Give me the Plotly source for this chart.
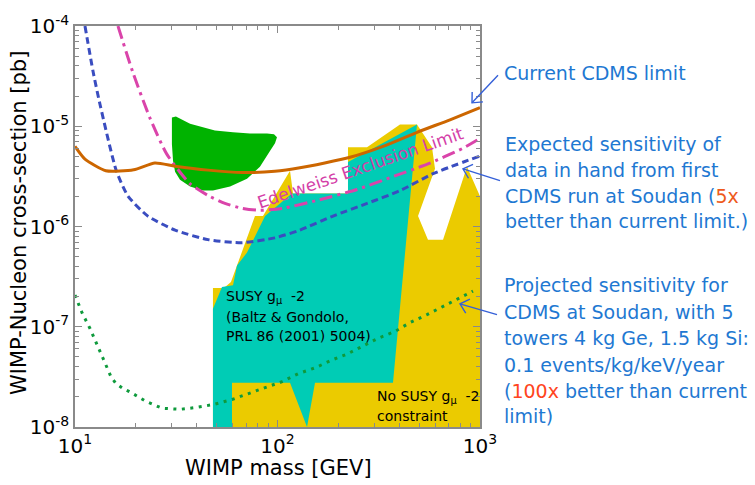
import math
import plotly.graph_objects as go

# ---------------- data ----------------
# Current CDMS limit
mass_cdms = [10, 11.2, 14.2, 19.5, 24.8, 31.2, 45.4, 67, 97, 129, 228, 332, 489, 711, 1000]
sigma_cdms = [6.3e-6, 4.7e-6, 3.6e-6, 3.68e-6, 4.3e-6, 4.0e-6, 3.65e-6, 3.45e-6, 3.55e-6, 3.85e-6,
              4.9e-6, 6.3e-6, 8.7e-6, 1.16e-5, 1.53e-5]

# Expected sensitivity, first CDMS run at Soudan
mass_exp = [11.2, 12.3, 13.3, 16.0, 18.3, 22.9, 31.2, 45.4, 66.8, 97, 129, 188, 277, 403, 586, 1000]
sigma_exp = [1e-4, 3.45e-5, 1.64e-5, 3.6e-6, 2.0e-6, 1.27e-6, 9.2e-7, 7.4e-7, 6.9e-7, 7.7e-7,
             9.2e-7, 1.27e-6, 1.7e-6, 2.28e-6, 3.36e-6, 5.05e-6]

# Edelweiss exclusion limit
mass_edw = [16.3, 19.3, 23.4, 28.4, 36.9, 45.4, 55.0, 66.8, 82.0, 106.5, 156.7, 247, 359.5, 553, 824, 1000]
sigma_edw = [1e-4, 3.45e-5, 1.22e-5, 5.27e-6, 2.68e-6, 2.04e-6, 1.70e-6, 1.52e-6, 1.45e-6, 1.52e-6,
             1.82e-6, 2.34e-6, 3.07e-6, 4.21e-6, 6.04e-6, 7.58e-6]

# Projected sensitivity, 5 towers at Soudan
mass_proj = [10, 10.83, 11.86, 12.84, 13.91, 15.06, 15.94, 17.26, 18.90, 22.42, 26.89, 33.0, 40.05,
             48.6, 59.6, 71.5, 86.8, 105.3, 126.3, 153.2, 185.8, 220.4, 264.4, 313.6, 380.3, 451.1,
             547.2, 649.2, 778.7, 923.6]
sigma_proj = [2.07e-7, 1.38e-7, 9.61e-8, 6.70e-8, 4.66e-8, 3.17e-8, 2.71e-8, 2.42e-8, 2.21e-8,
              1.80e-8, 1.54e-8, 1.50e-8, 1.57e-8, 1.68e-8, 1.88e-8, 2.16e-8, 2.47e-8, 2.83e-8,
              3.40e-8, 3.89e-8, 4.66e-8, 5.33e-8, 6.40e-8, 7.67e-8, 8.98e-8, 1.10e-7, 1.32e-7,
              1.58e-7, 1.90e-7, 2.27e-7]

# Region allowed without the g_mu - 2 constraint
mass_nosusy = [48.0, 48.0, 54.4, 58.9, 77.4, 84.8, 115.3, 119.3, 222.9, 222.9, 276.7, 402.6, 488.6,
               579.4, 599.5, 494.2, 553.5, 656.8, 862.5, 1000, 1000]
sigma_nosusy = [1e-8, 2.43e-7, 2.43e-7, 2.79e-7, 1.27e-6, 1.27e-6, 3.59e-6, 2.13e-6, 2.13e-6, 6.18e-6,
                6.18e-6, 1.04e-5, 1.04e-5, 6.18e-6, 3.76e-6, 1.27e-6, 7.37e-7, 7.37e-7, 3.94e-6,
                2.0e-6, 1e-8]

# Region allowed with SUSY g_mu - 2 (Baltz & Gondolo)
mass_susy = [48.0, 48.0, 53.2, 60.3, 63.1, 70.7, 86.8, 117.9, 222.9, 222.9, 488.6, 371.8, 153.2,
             139.9, 115.3, 59.6, 59.6]
sigma_susy = [1e-8, 1.51e-7, 2.49e-7, 2.60e-7, 4.09e-7, 5.49e-7, 1.27e-6, 2.13e-6, 2.13e-6, 4.41e-6,
              1.04e-5, 2.77e-8, 2.77e-8, 1e-8, 2.77e-8, 2.77e-8, 1e-8]

# Green closed region
mass_blob = [30.1, 31.5, 37.0, 41.4, 49.1, 60.3, 73.1, 88.8, 96.1, 99.4, 97.2, 91.8, 81.9, 70.7,
             58.3, 48.0, 42.9, 37.0, 33.0, 31.2, 30.5, 30.1]
sigma_blob = [1.22e-5, 1.25e-5, 1.06e-5, 9.95e-6, 9.08e-6, 8.69e-6, 8.49e-6, 8.49e-6, 8.30e-6,
              7.75e-6, 6.76e-6, 5.65e-6, 3.94e-6, 3.00e-6, 2.50e-6, 2.28e-6, 2.28e-6, 2.50e-6,
              2.93e-6, 3.51e-6, 4.51e-6, 6.62e-6]

x_major = [10, 100, 1000]
x_major_text = ["10<sup>1</sup>", "10<sup>2</sup>", "10<sup>3</sup>"]
y_major = [1e-8, 1e-7, 1e-6, 1e-5, 1e-4]
y_major_text = ["10<sup>-8</sup>", "10<sup>-7</sup>", "10<sup>-6</sup>", "10<sup>-5</sup>", "10<sup>-4</sup>"]
x_minor = [d * 10 ** e for e in (1, 2) for d in range(2, 10)]
y_minor = [d * 10.0 ** e for e in (-8, -7, -6, -5) for d in range(2, 10)]

# ---------------- layout helpers ----------------
W, H = 755, 485
L, R, T, B = 75, 480, 20, 427
FONT = "DejaVu Sans"
GRAY = "#8a8a8a"
TXT_BLUE = "#1E78D2"
HILITE = "#EE5A1C"
ARROW = "#3560D8"


def paper(px, py):
    return (px - L) / (R - L), (B - py) / (B - T)


fig = go.Figure()


def region(xs, ys, color):
    fig.add_trace(go.Scatter(x=xs, y=ys, mode="lines", fill="toself", fillcolor=color,
                             line=dict(width=0, color=color), hoverinfo="skip", showlegend=False))


region(mass_nosusy, sigma_nosusy, "#EBCB00")
region(mass_susy, sigma_susy, "#00CCB5")
region(mass_blob, sigma_blob, "#00B300")

fig.add_trace(go.Scatter(x=mass_proj, y=sigma_proj, mode="lines",
                         line=dict(color="#0E9A3C", width=3, dash="3px,5.5px"),
                         hoverinfo="skip", showlegend=False))
fig.add_trace(go.Scatter(x=mass_exp, y=sigma_exp, mode="lines",
                         line=dict(color="#3A4DC0", width=3, dash="7px,4px", shape="spline", smoothing=0.6),
                         hoverinfo="skip", showlegend=False))
fig.add_trace(go.Scatter(x=mass_edw, y=sigma_edw, mode="lines",
                         line=dict(color="#DA44AA", width=3, dash="13px,5px,3px,5px", shape="spline",
                                   smoothing=0.6),
                         hoverinfo="skip", showlegend=False))
fig.add_trace(go.Scatter(x=mass_cdms, y=sigma_cdms, mode="lines",
                         line=dict(color="#CC6600", width=3, shape="spline", smoothing=0.6),
                         hoverinfo="skip", showlegend=False))

annotations = []


def text_at(px, py, s, size, color="black", anchor="left", angle=0):
    x, y = paper(px, py)
    annotations.append(dict(x=x, y=y, xref="paper", yref="paper", text=s, showarrow=False,
                            xanchor=anchor, yanchor="middle", textangle=angle,
                            font=dict(family=FONT, size=size, color=color)))


# labels inside the plot
text_at(224, 295, "SUSY g<sub>μ</sub>  -2", 14)
text_at(224, 315, "(Baltz &amp; Gondolo,", 14)
text_at(224, 335, "PRL 86 (2001) 5004)", 14)
text_at(375, 397, "No SUSY g<sub>μ</sub>  -2", 14)
text_at(375, 416, "constraint", 14)
text_at(360, 164, "Edelweiss Exclusion Limit", 17, "#D440A8", "center", -19)

# explanatory text on the right
text_at(502, 68, "Current CDMS limit", 19, TXT_BLUE)
for py, s in [(140, "Expected sensitivity of"),
              (166, "data in hand from first"),
              (193, f"CDMS run at Soudan (<span style='color:{HILITE}'>5x</span>"),
              (218, "better than current limit.)")]:
    text_at(503, py, s, 19, TXT_BLUE)
for py, s in [(283, "Projected sensitivity for"),
              (310, "CDMS at Soudan, with 5"),
              (337, "towers 4 kg Ge, 1.5 kg Si:"),
              (364, "0.1 events/kg/keV/year"),
              (390, f"(<span style='color:#FF4420'>100x</span> better than current"),
              (416, "limit)")]:
    text_at(502, py, s, 19, TXT_BLUE)

# axis titles
text_at(278, 469, "WIMP mass [GEV]", 21, "black", "center")
text_at(19, 220, "WIMP-Nucleon cross-section [pb]", 21, "black", "center", -90)

# arrows pointing at the curves
shapes = []


def arrow(tail, tip, head=11, spread=42):
    sx, sy = tail
    tx, ty = tip
    ang = math.atan2(ty - sy, tx - sx)
    p_tail = paper(sx, sy)
    p_tip = paper(tx, ty)
    path = f"M{p_tail[0]},{p_tail[1]} L{p_tip[0]},{p_tip[1]}"
    shapes.append(dict(type="path", xref="paper", yref="paper", path=path,
                       line=dict(color=ARROW, width=1.4)))
    pts = []
    for s in (-1, 1):
        a = ang + math.pi + s * math.radians(spread)
        pts.append(paper(tx + head * math.cos(a), ty + head * math.sin(a)))
    vpath = f"M{pts[0][0]},{pts[0][1]} L{p_tip[0]},{p_tip[1]} L{pts[1][0]},{pts[1][1]}"
    shapes.append(dict(type="path", xref="paper", yref="paper", path=vpath,
                       line=dict(color=ARROW, width=1.4)))


arrow((498, 70), (472, 98))
arrow((500, 177), (463, 165))
arrow((497, 313), (460, 302))

axis_common = dict(type="log", showline=True, linecolor=GRAY, linewidth=1.5, mirror="allticks",
                   ticks="inside", ticklen=7, tickcolor=GRAY, tickwidth=1, showgrid=False,
                   zeroline=False, tickmode="array",
                   tickfont=dict(family=FONT, size=20, color="black"))

fig.update_layout(
    width=W, height=H, autosize=False,
    margin=dict(l=L, r=W - R, t=T, b=H - B, pad=0),
    paper_bgcolor="white", plot_bgcolor="white",
    xaxis=dict(axis_common, range=[1, 3], tickvals=x_major, ticktext=x_major_text,
               minor=dict(tickmode="array", tickvals=x_minor, ticks="inside", ticklen=4,
                          tickcolor=GRAY)),
    yaxis=dict(axis_common, range=[-8, -4], tickvals=y_major, ticktext=y_major_text,
               minor=dict(tickmode="array", tickvals=y_minor, ticks="inside", ticklen=4,
                          tickcolor=GRAY)),
    annotations=annotations,
    shapes=shapes,
    showlegend=False,
)

fig.write_html("out.html")
